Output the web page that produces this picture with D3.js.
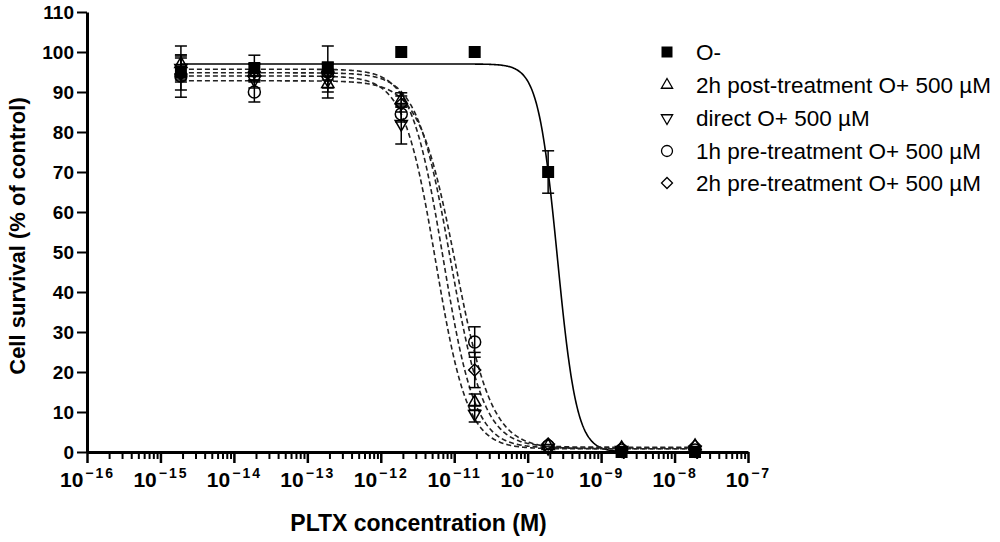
<!DOCTYPE html>
<html>
<head>
<meta charset="utf-8">
<script src="https://cdn.jsdelivr.net/npm/d3@7"></script>
<style>
  body { margin: 0; background: #fff; }
  svg { display: block; font-family: Arial, 'Liberation Sans', sans-serif; }
</style>
</head>
<body>
<svg id="chart" width="1000" height="542"></svg>
<script>
// concentrations (M) tested
const conc = [1.9e-15, 1.9e-14, 1.9e-13, 1.9e-12, 1.9e-11, 1.9e-10, 1.9e-9, 1.9e-8];

// series names, in legend order
const seriesNames = ['O-', '2h post-treatment O+ 500 \u00b5M', 'direct O+ 500 \u00b5M',
    '1h pre-treatment O+ 500 \u00b5M', '2h pre-treatment O+ 500 \u00b5M'];

// mean cell survival (% of control) per series
const meanOminus = [95, 96, 96, 100, 100, 70, 0, 0];
const meanPost2h = [97, 95, 92, 88, 12.5, 1.5, 1, 1.5];
const meanDirect = [96, 93, 93, 82, 9.5, 1, 0.5, 0.5];
const meanPre1h = [94, 90, 95, 84.5, 27.5, 1.5, 0.5, 0.5];
const meanPre2h = [94.5, 95, 95, 87, 20.5, 2, 1, 1.5];

// error (sem) per series
const errOminus = [1.5, 3.2, 1.5, 0, 0, 5.3, 0, 0];
const errPost2h = [4.5, 2, 2, 1.8, 2, 0.5, 0.5, 0.5];
const errDirect = [3, 2, 2, 5, 2, 0.5, 0.3, 0.3];
const errPre1h = [5.3, 2.5, 6.5, 2, 3.8, 0.5, 0.3, 0.3];
const errPre2h = [4, 2, 2, 2, 4.4, 0.5, 0.5, 0.5];

// sigmoidal dose-response fit parameters per series
const fitTop = [97, 95.7, 94, 92.8, 94.8];
const fitBottom = [0, 1, 0.8, 0.8, 1.2];
const fitLogEC50 = [-9.595, -11.15, -11.25, -10.98, -11.05];
const fitHill = [3.3, 2.0, 2.0, 1.75, 1.9];

const xTicks = [-16, -15, -14, -13, -12, -11, -10, -9, -8, -7];
const yTicks = [0, 10, 20, 30, 40, 50, 60, 70, 80, 90, 100, 110];

const means = [meanOminus, meanPost2h, meanDirect, meanPre1h, meanPre2h];
const errs = [errOminus, errPost2h, errDirect, errPre1h, errPre2h];
const markers = ['square', 'triUp', 'triDown', 'circle', 'diamond'];

const svg = d3.select('#chart');
const plotLeft = 87, plotRight = 748, plotTop = 12, plotBottom = 452;

const x = d3.scaleLog().domain([1e-16, 1e-7]).range([plotLeft, plotRight]);
const y = d3.scaleLinear().domain([0, 110]).range([plotBottom, plotTop]);

// marker path for each symbol kind
function markerPath(kind, s) {
    if (kind === 'square') return d3.symbol(d3.symbolSquare, s * s)();
    if (kind === 'circle') return d3.symbol(d3.symbolCircle, Math.PI * s * s / 4)();
    if (kind === 'diamond') return d3.symbol(d3.symbolSquare, s * s / 2)();
    return d3.symbol(d3.symbolTriangle, s * s * 0.45)();
}
function markerRotate(kind) {
    if (kind === 'triDown') return 180;
    if (kind === 'diamond') return 45;
    return 0;
}

// fitted curves
const logGrid = d3.range(Math.log10(conc[0]), Math.log10(conc[conc.length - 1]) + 0.001, 0.01);
const line = d3.line().x((d) => x(Math.pow(10, d[0]))).y((d) => y(d[1]));
const curveG = svg.append('g');
for (let i = 0; i < seriesNames.length; i++) {
    const pts = logGrid.map((lx) => [lx, fitBottom[i] + (fitTop[i] - fitBottom[i]) /
        (1 + Math.pow(10, (lx - fitLogEC50[i]) * fitHill[i]))]);
    curveG.append('path')
        .attr('d', line(pts))
        .attr('fill', 'none')
        .attr('stroke', i === 0 ? '#000' : '#222')
        .attr('stroke-width', 1.6)
        .attr('stroke-dasharray', i === 0 ? null : '5,3');
}

// error bars and points
const dotG = svg.append('g');
for (let i = seriesNames.length - 1; i >= 0; i--) {
    const pts = conc.map((c, j) => ({ c: c, m: means[i][j], e: errs[i][j] }));
    const eb = dotG.append('g').selectAll('g').data(pts.filter((d) => d.e > 1)).enter().append('g')
        .attr('stroke', '#000').attr('stroke-width', 1.5);
    eb.append('line')
        .attr('x1', (d) => x(d.c)).attr('x2', (d) => x(d.c))
        .attr('y1', (d) => y(d.m - d.e)).attr('y2', (d) => y(d.m + d.e));
    [1, -1].forEach((sgn) => {
        eb.append('line')
            .attr('x1', (d) => x(d.c) - 6).attr('x2', (d) => x(d.c) + 6)
            .attr('y1', (d) => y(d.m + sgn * d.e)).attr('y2', (d) => y(d.m + sgn * d.e));
    });
    const filled = markers[i] === 'square';
    dotG.append('g').selectAll('path').data(pts).enter().append('path')
        .attr('d', markerPath(markers[i], 12))
        .attr('transform', (d) => `translate(${x(d.c)},${y(d.m)}) rotate(${markerRotate(markers[i])})`)
        .attr('fill', filled ? '#000' : 'none')
        .attr('stroke', '#000')
        .attr('stroke-width', filled ? 0 : 1.5);
}

// y axis
const yAxis = svg.append('g')
    .attr('transform', `translate(${plotLeft},0)`)
    .call(d3.axisLeft(y).tickValues(yTicks).tickSize(10).tickSizeOuter(0).tickPadding(3));
yAxis.select('.domain').attr('stroke-width', 3);
yAxis.selectAll('.tick line').attr('stroke-width', 2);
yAxis.selectAll('.tick text')
    .attr('font-size', 19).attr('font-weight', 'bold')
    .attr('font-family', "Arial, 'Liberation Sans', sans-serif").attr('fill', '#000');

// x axis: minor ticks then major ticks with labels
const minorTicks = [];
xTicks.slice(0, -1).forEach((e) => {
    for (let k = 2; k <= 9; k++) minorTicks.push(k * Math.pow(10, e));
});
const xMinor = svg.append('g')
    .attr('transform', `translate(0,${plotBottom})`)
    .call(d3.axisBottom(x).tickValues(minorTicks).tickSize(7).tickSizeOuter(0).tickFormat(''));
xMinor.select('.domain').attr('stroke-width', 3);
xMinor.selectAll('.tick line').attr('stroke-width', 2);

const xMajor = svg.append('g')
    .attr('transform', `translate(0,${plotBottom})`)
    .call(d3.axisBottom(x).tickValues(xTicks.map((e) => Math.pow(10, e))).tickSize(11).tickFormat(''));
xMajor.select('.domain').remove();
xMajor.selectAll('.tick line').attr('stroke-width', 2.5);
xMajor.selectAll('.tick').each(function (d, i) {
    const t = d3.select(this).append('text')
        .attr('y', 35)
        .attr('text-anchor', 'middle')
        .attr('font-family', "Arial, 'Liberation Sans', sans-serif")
        .attr('font-weight', 'bold')
        .attr('fill', '#000');
    t.append('tspan').attr('font-size', 21).text('10');
    t.append('tspan').attr('font-size', 14).attr('dy', -9).attr('dx', 2)
        .attr('letter-spacing', 2).text('\u2212' + String(-xTicks[i]));
});

// axis titles
svg.append('text')
    .attr('x', (plotLeft + plotRight) / 2 + 1).attr('y', 531)
    .attr('text-anchor', 'middle')
    .attr('font-size', 23).attr('font-weight', 'bold')
    .text('PLTX concentration (M)');
svg.append('text')
    .attr('transform', `translate(25,${(plotTop + plotBottom) / 2 + 4}) rotate(-90)`)
    .attr('text-anchor', 'middle')
    .attr('font-size', 22).attr('font-weight', 'bold')
    .text('Cell survival (% of control)');

// legend
const legendY = [52, 85, 118, 151, 183];
const leg = svg.append('g');
seriesNames.forEach((name, i) => {
    const filled = markers[i] === 'square';
    leg.append('path')
        .attr('d', markerPath(markers[i], 11))
        .attr('transform', `translate(667,${legendY[i]}) rotate(${markerRotate(markers[i])})`)
        .attr('fill', filled ? '#000' : 'none')
        .attr('stroke', '#000')
        .attr('stroke-width', filled ? 0 : 1.3);
    leg.append('text')
        .attr('x', 696).attr('y', legendY[i] + 8)
        .attr('font-size', 22.5)
        .attr('fill', '#000')
        .text(name);
});
</script>
</body>
</html>
